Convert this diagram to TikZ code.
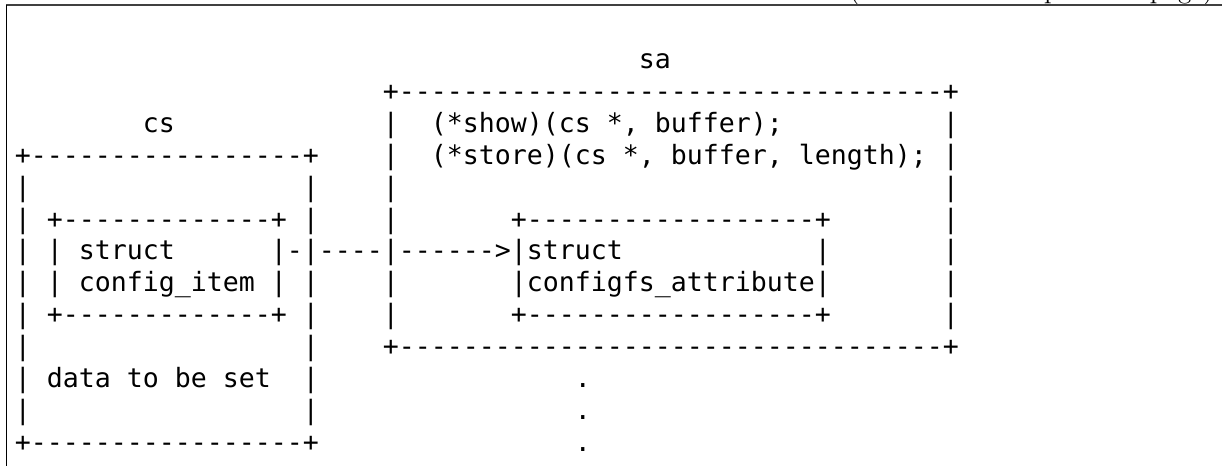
\documentclass[tikz,border=0pt]{standalone}
\usepackage{fontspec}
\newfontfamily\asciifont{DejaVu Sans Mono}[WordSpace={1,0,0}]
\usepackage{tikz}

\begin{document}
\begin{tikzpicture}[x=0.5pt, y=-0.5pt,
		ascii/.style={inner sep=0pt, anchor=base west, font={\asciifont\fontsize{13.29pt}{15.93pt}\selectfont\frenchspacing}}]
		\useasboundingbox (0,0) rectangle (1222,466);
		\node[anchor=base east, inner sep=0pt, font=\fontsize{13.6pt}{16pt}\selectfont] (contd) at (1214,-1.5) {(continued from previous page)};
		\draw[black!75, line width=0.6pt] (6,5) -- (1222,5);
		\draw[line width=0.6pt] (6.5,5) -- (6.5,466);

		\begin{scope}[shift={(14.5,36.95)}, x=8pt, y=-15.925pt]
		\node[ascii] (sa) at (39,1) {sa};
		\node[ascii] (saTop) at (23,2) {+----------------------------------+};

		\node[ascii] (cs) at (8,3) {cs};
		\node[ascii] (saL3) at (23,3) {|};
		\node[ascii] (show) at (26,3) {(*show)(cs *, buffer);};
		\node[ascii] (saR3) at (58,3) {|};

		\node[ascii] (csTop) at (0,4) {+-----------------+};
		\node[ascii] (saL4) at (23,4) {|};
		\node[ascii] (store) at (26,4) {(*store)(cs *, buffer, length);};
		\node[ascii] (saR4) at (58,4) {|};

		\node[ascii] (csL5) at (0,5) {|};
		\node[ascii] (csR5) at (18,5) {|};
		\node[ascii] (saL5) at (23,5) {|};
		\node[ascii] (saR5) at (58,5) {|};

		\node[ascii] (csL6) at (0,6) {|};
		\node[ascii] (itemTop) at (2,6) {+-------------+};
		\node[ascii] (csR6) at (18,6) {|};
		\node[ascii] (saL6) at (23,6) {|};
		\node[ascii] (attrTop) at (31,6) {+------------------+};
		\node[ascii] (saR6) at (58,6) {|};

		\node[ascii] (csL7) at (0,7) {|};
		\node[ascii] (itemL7) at (2,7) {|};
		\node[ascii] (itemName) at (4,7) {struct};
		\node[ascii] (itemR7) at (16,7) {|};
		\node[ascii] (ptr) at (17,7) {-|----|------>};
		\node[ascii] (attrL7) at (31,7) {|};
		\node[ascii] (attrName) at (32,7) {struct};
		\node[ascii] (attrR7) at (50,7) {|};
		\node[ascii] (saR7) at (58,7) {|};

		\node[ascii] (csL8) at (0,8) {|};
		\node[ascii] (itemL8) at (2,8) {|};
		\node[ascii] (itemType) at (4,8) {config\_item};
		\node[ascii] (itemR8) at (16,8) {|};
		\node[ascii] (csR8) at (18,8) {|};
		\node[ascii] (saL8) at (23,8) {|};
		\node[ascii] (attrL8) at (31,8) {|};
		\node[ascii] (attrType) at (32,8) {configfs\_attribute};
		\node[ascii] (attrR8) at (50,8) {|};
		\node[ascii] (saR8) at (58,8) {|};

		\node[ascii] (csL9) at (0,9) {|};
		\node[ascii] (itemBot) at (2,9) {+-------------+};
		\node[ascii] (csR9) at (18,9) {|};
		\node[ascii] (saL9) at (23,9) {|};
		\node[ascii] (attrBot) at (31,9) {+------------------+};
		\node[ascii] (saR9) at (58,9) {|};

		\node[ascii] (csL10) at (0,10) {|};
		\node[ascii] (csR10) at (18,10) {|};
		\node[ascii] (saBot) at (23,10) {+----------------------------------+};

		\node[ascii] (csL11) at (0,11) {|};
		\node[ascii] (data) at (2,11) {data to be set};
		\node[ascii] (csR11) at (18,11) {|};
		\node[ascii] (dot1) at (35,11) {.};

		\node[ascii] (csL12) at (0,12) {|};
		\node[ascii] (csR12) at (18,12) {|};
		\node[ascii] (dot2) at (35,12) {.};

		\node[ascii] (csBot) at (0,13) {+-----------------+};
		\node[ascii] (dot3) at (35,13) {.};
		\end{scope}
	\end{tikzpicture}
\end{document}
